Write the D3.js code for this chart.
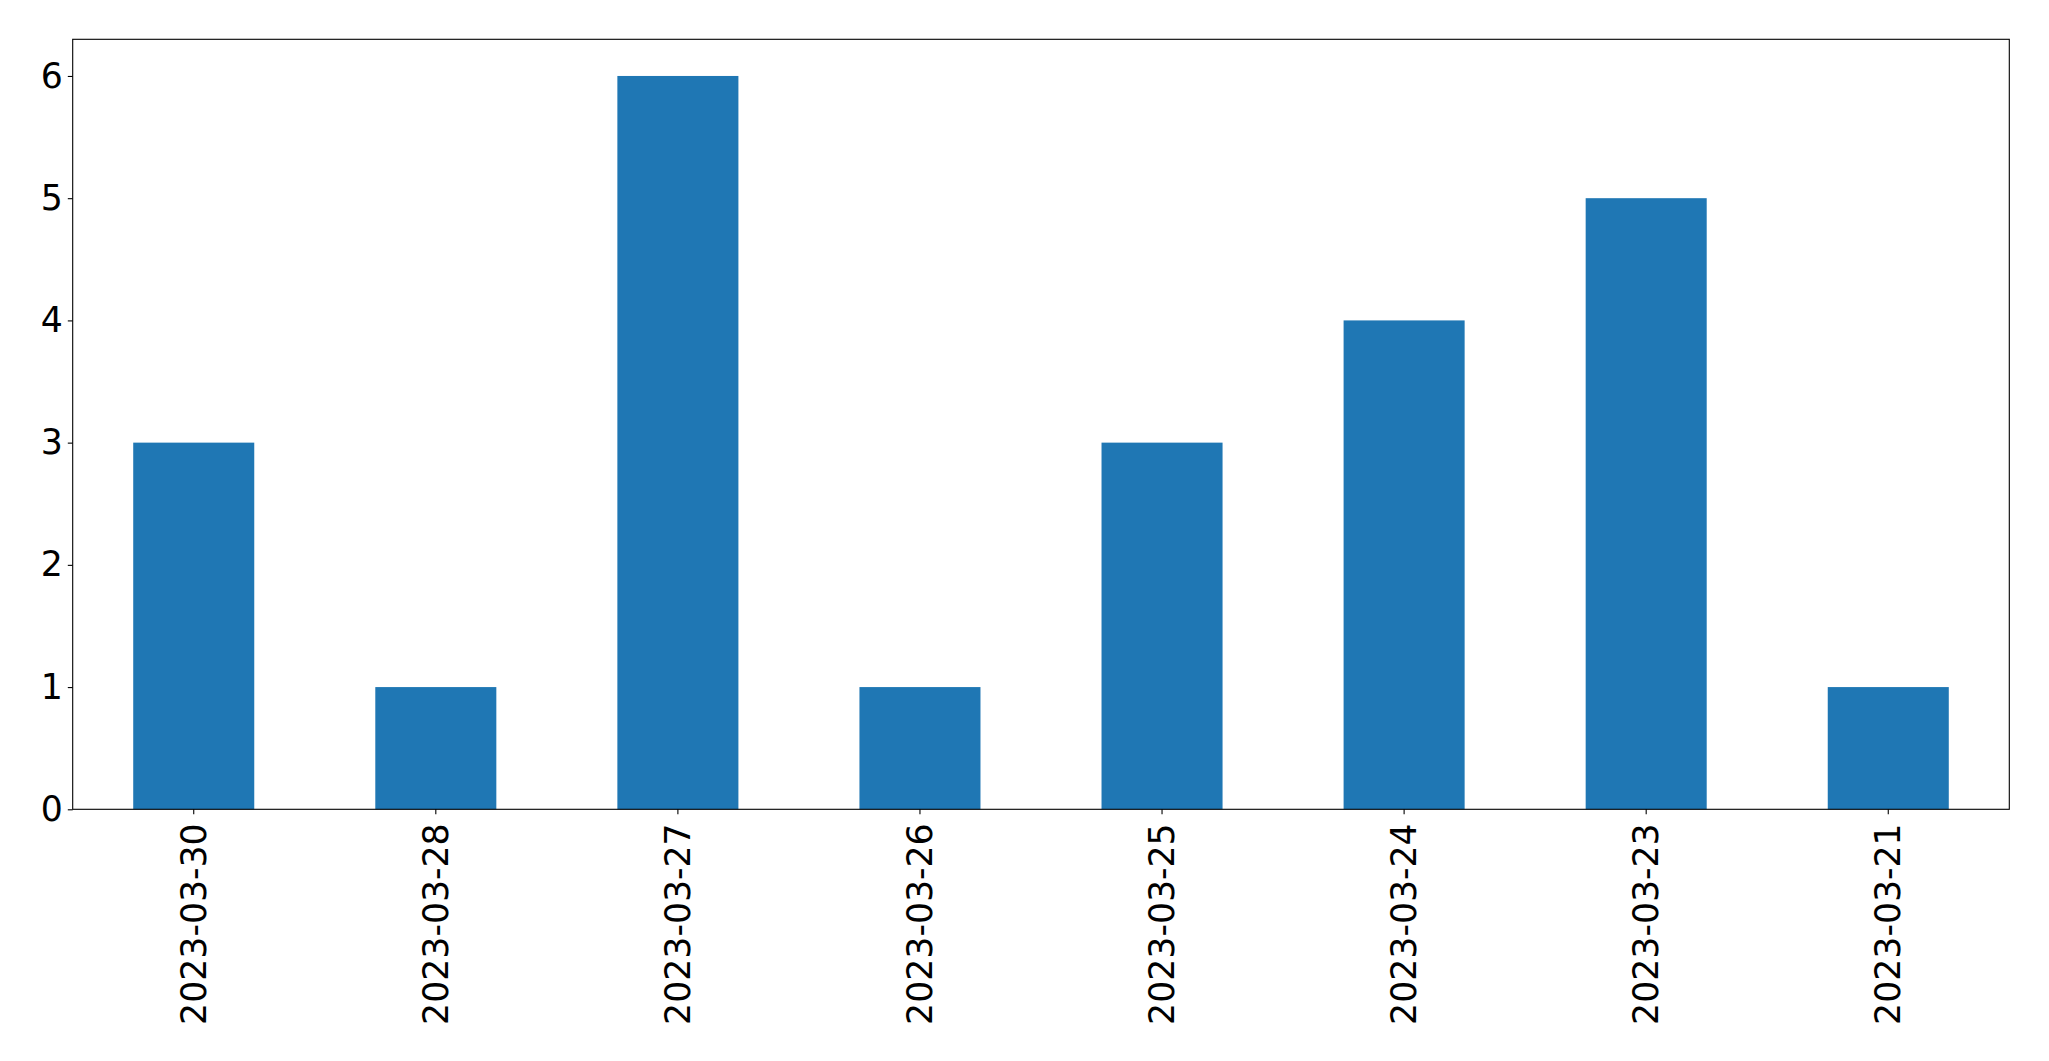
<!DOCTYPE html>
<html>
<head>
<meta charset="utf-8">
<script src="https://cdn.jsdelivr.net/npm/d3@7"></script>
<style>
html,body{margin:0;padding:0;background:#fff;}
svg{display:block;}
text{font-family:"DejaVu Sans",sans-serif;}
</style>
</head>
<body>
<script>
const categories = ["2023-03-30","2023-03-28","2023-03-27","2023-03-26","2023-03-25","2023-03-24","2023-03-23","2023-03-21"];
const values = [3,1,6,1,3,4,5,1];
const yTicks = [0,1,2,3,4,5,6];

const W = 2049, H = 1061;
const plotLeft = 72.7, plotRight = 2009.3, plotTop = 39.3, plotBottom = 809.3;
const fontSize = 34.7;

const svg = d3.select("body").append("svg").attr("width", W).attr("height", H);

const x = d3.scaleBand().domain(categories).range([plotLeft, plotRight]).paddingInner(0.5).paddingOuter(0.25);
const y = d3.scaleLinear().domain([0, 6.3]).range([plotBottom, plotTop]);

svg.append("g").selectAll("rect").data(values).join("rect")
  .attr("x", (d,i) => x(categories[i]))
  .attr("width", x.bandwidth())
  .attr("y", d => y(d))
  .attr("height", d => y(0) - y(d))
  .attr("fill", "#1f77b4");

const xAxis = svg.append("g").attr("transform", `translate(0,${plotBottom})`)
  .call(d3.axisBottom(x).tickSize(4.9).tickPadding(6));
xAxis.select(".domain").remove();
xAxis.selectAll(".tick line").attr("stroke", "#000").attr("stroke-width", 1.1);
xAxis.selectAll(".tick text")
  .attr("font-size", fontSize)
  .attr("font-family", "DejaVu Sans, sans-serif")
  .attr("fill", "#000")
  .attr("text-anchor", "end")
  .attr("transform", "rotate(-90)")
  .attr("x", -14)
  .attr("y", 0)
  .attr("dy", "0.35em");

const yAxis = svg.append("g").attr("transform", `translate(${plotLeft},0)`)
  .call(d3.axisLeft(y).tickValues(yTicks).tickFormat(d3.format("d")).tickSize(4.9).tickPadding(5));
yAxis.select(".domain").remove();
yAxis.selectAll(".tick line").attr("stroke", "#000").attr("stroke-width", 1.1);
yAxis.selectAll(".tick text")
  .attr("font-size", fontSize)
  .attr("font-family", "DejaVu Sans, sans-serif")
  .attr("fill", "#000");

svg.append("rect")
  .attr("x", plotLeft).attr("y", plotTop)
  .attr("width", plotRight - plotLeft).attr("height", plotBottom - plotTop)
  .attr("fill", "none").attr("stroke", "#000").attr("stroke-width", 1.1);
</script>
</body>
</html>
